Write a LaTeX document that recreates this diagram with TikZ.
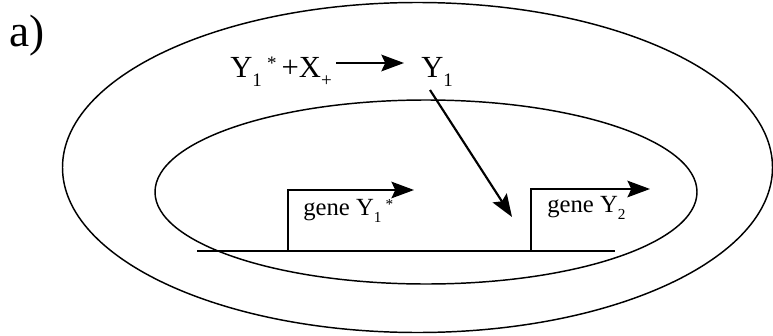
\documentclass[tikz,border=0pt]{standalone}
\usepackage{fontspec}
\setmainfont{Liberation Serif}
\usetikzlibrary{arrows.meta}
\newcommand{\lowsub}[1]{\raisebox{-0.3em}{\scalebox{0.62}{#1}}}
\newcommand{\highsup}[1]{\raisebox{0.24em}{\scalebox{0.62}{#1}}}
\begin{document}
\begin{tikzpicture}[x=0.75pt,y=-0.75pt,
  big/.style={font=\fontsize{23}{26}\selectfont, inner sep=0pt, anchor=base west},
  genetxt/.style={font=\fontsize{18.5}{22}\selectfont, inner sep=0pt, anchor=base west},
  lbl/.style={font=\fontsize{34}{38}\selectfont, inner sep=0pt, anchor=base west},
  arr/.style={line width=1.6pt, -{Stealth[length=17pt, width=12.5pt, inset=3pt]}},
  cell/.style={line width=1.1pt},
  dna/.style={line width=1.4pt}]
\useasboundingbox (0,0) rectangle (773,335);
% labels
\node[lbl] (a) at (9,46) {a)};
% membranes
\draw[cell] (417.5,167.5) ellipse [x radius=355, y radius=165];
\draw[cell] (426,192) ellipse [x radius=271, y radius=92];
% reaction
\node[big] (r) at (230,77) {Y\lowsub{1}\,\highsup{*}\,+X\lowsub{+}};
\node[big] (y1) at (421,77) {Y\lowsub{1}};
\coordinate (ra) at (336,63);
\coordinate (rb) at (404,63);
\draw[arr] (ra) -- (rb);
% DNA
\coordinate (d1) at (197,251);
\coordinate (d2) at (615,251);
\draw[dna] (d1) -- (d2);
\coordinate (p1) at (288,251);
\coordinate (p1t) at (288,190);
\coordinate (p1e) at (414,190);
\draw[arr, line width=1.4pt] (p1) -- (p1t) -- (p1e);
\coordinate (p2) at (531,251);
\coordinate (p2t) at (531,189);
\coordinate (p2e) at (650,189);
\draw[arr, line width=1.4pt] (p2) -- (p2t) -- (p2e);
\node[genetxt] (g1) at (303,215) {gene Y\lowsub{1}\,\highsup{*}};
\node[genetxt] (g2) at (547,212) {gene Y\lowsub{2}};
% regulation arrow
\coordinate (ys) at (430,90);
\coordinate (yt) at (512,217);
\draw[arr] (ys) -- (yt);
\end{tikzpicture}
\end{document}
